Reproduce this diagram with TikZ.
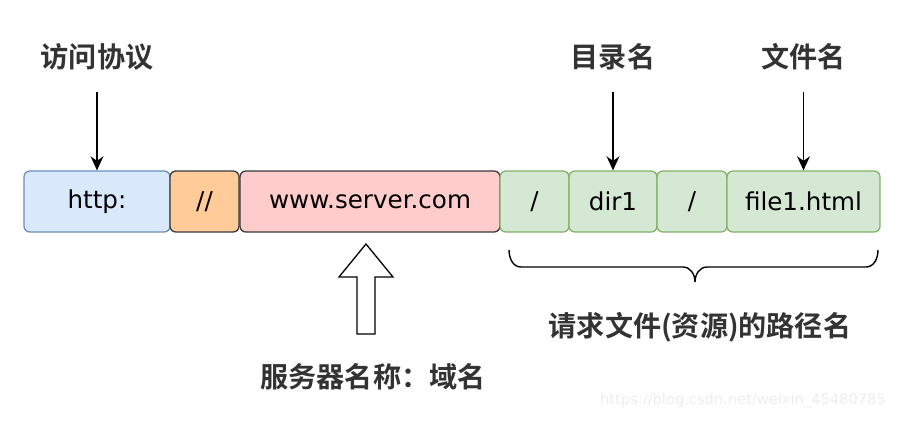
\documentclass[tikz,border=0pt]{standalone}
\usepackage{fontspec}
\usepackage{xcolor}
\setmainfont{DejaVu Sans}
\newfontfamily\cjk{Noto Sans CJK SC}[BoldFont={Noto Sans CJK SC Bold}]
\usetikzlibrary{arrows.meta}

\definecolor{blueFill}{HTML}{DAE8FC}
\definecolor{blueLine}{HTML}{6C8EBF}
\definecolor{orangeFill}{HTML}{FFCC99}
\definecolor{pinkFill}{HTML}{FFCCCC}
\definecolor{darkLine}{HTML}{36393D}
\definecolor{greenFill}{HTML}{D5E8D4}
\definecolor{greenLine}{HTML}{82B366}
\definecolor{labelGray}{HTML}{333333}

\tikzset{
    seg/.style={draw, line width=1.1pt, rounded corners=5pt, minimum height=1.83cm,
        inner sep=0pt, font=\fontsize{21}{25}\selectfont},
    tag/.style={text=labelGray, font=\cjk\bfseries\fontsize{24}{29}\selectfont, inner sep=0pt},
    pointer/.style={-{Stealth[length=12pt, width=11pt]}, line width=1.2pt}
}

\begin{document}
\begin{tikzpicture}[x=0.03cm, y=-0.03cm]
                \useasboundingbox (0, 0) rectangle (898, 420);

                % the parts of the address
                \node[seg, fill=blueFill, draw=blueLine, minimum width=4.38cm] (http) at (97, 201.5) {http:};
                \node[seg, fill=orangeFill, draw=darkLine, minimum width=2.07cm] (slashes) at (204.5, 201.5) {//};
                \node[seg, fill=pinkFill, draw=darkLine, minimum width=7.8cm] (server) at (370, 201.5) {www.server.com};
                \node[seg, fill=greenFill, draw=greenLine, minimum width=2.07cm] (rootSlash) at (534.5, 201.5) {/};
                \node[seg, fill=greenFill, draw=greenLine, minimum width=2.64cm] (dir) at (613, 201.5) {dir1};
                \node[seg, fill=greenFill, draw=greenLine, minimum width=2.1cm] (dirSlash) at (692, 201.5) {/};
                \node[seg, fill=greenFill, draw=greenLine, minimum width=4.59cm] (file) at (803.5, 201.5) {file1.html};

                % labels on top
                \node[tag] (proto) at (97, 57) {访问协议};
                \node[tag] (dirName) at (613, 57) {目录名};
                \node[tag] (fileName) at (803.5, 57) {文件名};
                \coordinate (protoEnd) at (97, 92);
                \coordinate (dirEnd) at (613, 92);
                \coordinate (fileEnd) at (803.5, 92);

                \draw[pointer] (protoEnd) -- (http.north);
                \draw[pointer] (dirEnd) -- (dir.north);
                \draw[pointer] (fileEnd) -- (file.north);

                % hollow arrow to the server name
                \draw[line width=1.1pt, fill=white] (366, 244)
                    -- (393, 277) -- (375, 277) -- (375, 334)
                    -- (357, 334) -- (357, 277) -- (339, 277) -- cycle;
                \node[tag] (serverName) at (373, 377) {服务器名称：域名};

                % brace under the path
                \draw[line width=1.2pt] (509, 250) to[out=-90, in=180] (521, 267)
                    -- (683, 267) to[out=0, in=90] (695, 282)
                    to[out=90, in=180] (707, 267) -- (866, 267)
                    to[out=0, in=-90] (878, 250);
                \node[tag] (pathName) at (700, 327) {请求文件(资源)的路径名};

                \node[anchor=east, text=black!7, font=\fontsize{12.5}{15}\selectfont, inner sep=0pt] (mark) at (886, 401) {https://blog.csdn.net/weixin\_45480785};
            \end{tikzpicture}
\end{document}
